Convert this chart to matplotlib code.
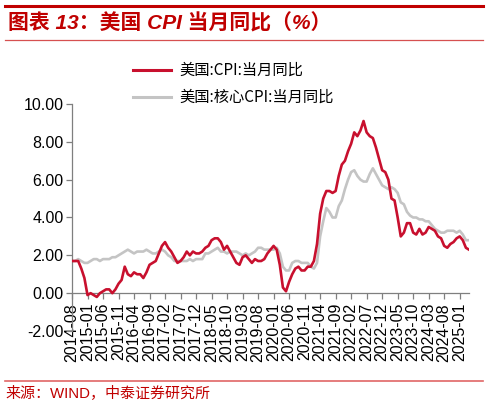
import matplotlib
matplotlib.use("Agg")
import matplotlib.pyplot as plt
from matplotlib.lines import Line2D

plt.rcParams["font.family"] = ["Liberation Sans", "Noto Sans CJK SC", "DejaVu Sans"]

# ---- data ----
start_year, start_month = 2014, 8
cpi = [1.7, 1.7, 1.7, 1.3, 0.8,
       -0.1, 0.0, -0.1, -0.2, 0.0, 0.1, 0.2, 0.2, 0.0, 0.2, 0.5, 0.7,
       1.4, 1.0, 0.9, 1.1, 1.0, 1.0, 0.8, 1.1, 1.5, 1.6, 1.7, 2.1,
       2.5, 2.7, 2.4, 2.2, 1.9, 1.6, 1.7, 1.9, 2.2, 2.0, 2.2, 2.1,
       2.1, 2.2, 2.4, 2.5, 2.8, 2.9, 2.9, 2.7, 2.3, 2.5, 2.2, 1.9,
       1.6, 1.5, 1.9, 2.0, 1.8, 1.6, 1.8, 1.7, 1.7, 1.8, 2.1, 2.3,
       2.5, 2.3, 1.5, 0.3, 0.1, 0.6, 1.0, 1.3, 1.4, 1.2, 1.2, 1.4,
       1.4, 1.7, 2.6, 4.2, 5.0, 5.4, 5.4, 5.3, 5.4, 6.2, 6.8, 7.0,
       7.5, 7.9, 8.5, 8.3, 8.6, 9.1, 8.5, 8.3, 8.2, 7.7, 7.1, 6.5,
       6.4, 6.0, 5.0, 4.9, 4.0, 3.0, 3.2, 3.7, 3.7, 3.2, 3.1, 3.4,
       3.1, 3.2, 3.5, 3.4, 3.3, 3.0, 2.9, 2.5, 2.4, 2.6, 2.7, 2.9,
       3.0, 2.8, 2.4, 2.3]
core = [1.7, 1.7, 1.8, 1.7, 1.6,
        1.6, 1.7, 1.8, 1.8, 1.7, 1.8, 1.8, 1.8, 1.9, 1.9, 2.0, 2.1,
        2.2, 2.3, 2.2, 2.1, 2.2, 2.2, 2.2, 2.3, 2.2, 2.1, 2.1, 2.2,
        2.3, 2.2, 2.0, 1.9, 1.7, 1.7, 1.7, 1.7, 1.7, 1.8, 1.7, 1.8,
        1.8, 1.8, 2.1, 2.1, 2.2, 2.3, 2.4, 2.2, 2.2, 2.1, 2.2, 2.2,
        2.2, 2.1, 2.0, 2.1, 2.0, 2.1, 2.2, 2.4, 2.4, 2.3, 2.3, 2.3,
        2.3, 2.4, 2.1, 1.4, 1.2, 1.2, 1.6, 1.7, 1.7, 1.6, 1.6, 1.6,
        1.4, 1.3, 1.6, 3.0, 3.8, 4.5, 4.3, 4.0, 4.0, 4.6, 4.9, 5.5,
        6.0, 6.4, 6.5, 6.2, 6.0, 5.9, 5.9, 6.3, 6.6, 6.3, 6.0, 5.7,
        5.6, 5.5, 5.6, 5.5, 5.3, 4.8, 4.7, 4.3, 4.1, 4.0, 4.0, 3.9,
        3.9, 3.8, 3.8, 3.6, 3.4, 3.3, 3.2, 3.2, 3.3, 3.3, 3.3, 3.2,
        3.3, 3.1, 2.8, 2.8]
series_names = ["美国:CPI:当月同比", "美国:核心CPI:当月同比"]
title_text = "图表 13：美国 CPI 当月同比（%）"
source_text = "来源：WIND，中泰证券研究所"
y_ticks = [-2, 0, 2, 4, 6, 8, 10]
tick_step = 5

n = len(cpi)
x = list(range(n))
labels = []
for i in range(n):
    m = start_month - 1 + i
    labels.append(f"{start_year + m // 12}-{m % 12 + 1:02d}")
tick_pos = list(range(0, n, tick_step))
tick_lab = [labels[i] for i in tick_pos]

RED = "#C8102E"
GRAY = "#C4C4C4"
AX = "#7F7F7F"
DARKRED = "#C00000"

W, H = 488, 404
fig = plt.figure(figsize=(W / 100, H / 100), dpi=100)
fig.patch.set_facecolor("white")

left, right, top, bottom = 72, 469, 104, 331
ax = fig.add_axes([left / W, 1 - bottom / H, (right - left) / W, (bottom - top) / H])

ax.plot(x, core, color=GRAY, lw=1.9, solid_joinstyle="round", zorder=2)
ax.plot(x, cpi, color=RED, lw=1.9, solid_joinstyle="round", zorder=3)

ax.set_xlim(0, n - 1)
ax.set_ylim(-2, 10)
ax.set_yticks(y_ticks)
ax.set_yticklabels([f"{v:.2f}" for v in y_ticks])
ax.set_xticks(tick_pos)
ax.set_xticklabels(tick_lab)

for s in ["top", "right"]:
    ax.spines[s].set_visible(False)
ax.spines["bottom"].set_position(("data", 0))
for s in ["left", "bottom"]:
    ax.spines[s].set_color(AX)
    ax.spines[s].set_linewidth(0.9)
ax.tick_params(axis="both", color=AX, labelcolor="black", length=4, width=0.9,
               direction="out", labelsize=11.5, pad=2)
ax.tick_params(axis="x", labelrotation=90, pad=3)

handles = [Line2D([], [], color=RED, lw=2.2), Line2D([], [], color=GRAY, lw=2.2)]
fig.legend(handles, series_names, loc="upper left",
           bbox_to_anchor=(133 / W, 1 - 62 / H), frameon=False,
           prop={"family": ["Noto Sans CJK SC", "DejaVu Sans"], "size": 11},
           handlelength=2.5, handletextpad=0.55, labelspacing=0.65,
           borderpad=0, borderaxespad=0)

# header / footer
fig.add_artist(Line2D([5 / W, 483 / W], [1 - 6 / H, 1 - 6 / H], color=DARKRED, lw=2.2))
fig.add_artist(Line2D([5 / W, 483 / W], [1 - 40 / H, 1 - 40 / H], color="#D65050", lw=0.9))
fig.add_artist(Line2D([5 / W, 483 / W], [1 - 381 / H, 1 - 381 / H], color="#E06666", lw=1.2))
fig.text(8 / W, 1 - 23 / H, title_text, color=DARKRED, fontsize=15, fontweight="bold",
         style="italic", va="center", ha="left")
fig.text(5 / W, 1 - 393 / H, source_text, color=DARKRED, fontsize=10.8,
         va="center", ha="left")

fig.savefig("out.png", dpi=100, facecolor="white")
